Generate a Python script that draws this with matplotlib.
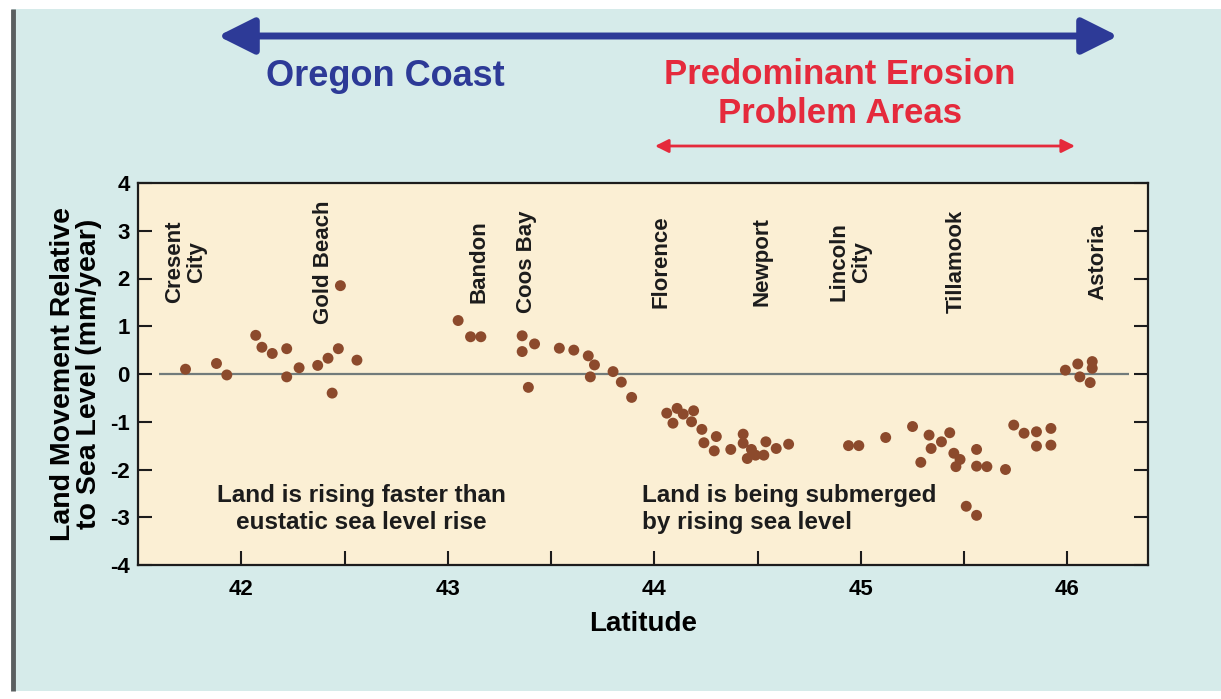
import matplotlib
matplotlib.use('Agg')
import matplotlib.pyplot as plt
import matplotlib.patches as mpatches

plt.rcParams['font.family'] = ['Liberation Sans', 'DejaVu Sans']
plt.rcParams['font.weight'] = 'bold'
plt.rcParams['axes.unicode_minus'] = False

# tide-gauge / survey stations: latitude and land movement (mm/year)
latitude = [41.73, 41.88, 41.93, 42.07, 42.10, 42.15, 42.22, 42.22, 42.28, 42.37,
            42.42, 42.47, 42.48, 42.44, 42.56, 43.05, 43.11, 43.16, 43.36, 43.36,
            43.42, 43.39, 43.54, 43.61, 43.68, 43.71, 43.69, 43.80, 43.84, 43.89,
            44.06, 44.11, 44.14, 44.09, 44.19, 44.18, 44.23, 44.30, 44.24, 44.29,
            44.37, 44.43, 44.43, 44.47, 44.45, 44.49, 44.54, 44.53, 44.59, 44.65,
            44.94, 44.99, 45.12, 45.25, 45.33, 45.43, 45.39, 45.34, 45.29, 45.45,
            45.48, 45.46, 45.56, 45.56, 45.61, 45.70, 45.74, 45.79, 45.85, 45.92,
            45.85, 45.92, 45.51, 45.56, 45.99, 46.05, 46.12, 46.12, 46.06, 46.11]
movement = [0.10, 0.22, -0.02, 0.81, 0.56, 0.43, 0.53, -0.06, 0.13, 0.18,
            0.33, 0.53, 1.85, -0.40, 0.29, 1.12, 0.78, 0.78, 0.80, 0.47,
            0.63, -0.28, 0.54, 0.50, 0.38, 0.19, -0.06, 0.05, -0.17, -0.49,
            -0.82, -0.72, -0.84, -1.03, -0.77, -1.00, -1.16, -1.31, -1.44, -1.61,
            -1.58, -1.26, -1.45, -1.58, -1.77, -1.70, -1.42, -1.70, -1.56, -1.47,
            -1.50, -1.50, -1.33, -1.10, -1.28, -1.23, -1.42, -1.56, -1.85, -1.66,
            -1.79, -1.94, -1.58, -1.93, -1.94, -2.00, -1.07, -1.24, -1.21, -1.14,
            -1.51, -1.49, -2.77, -2.96, 0.08, 0.21, 0.26, 0.12, -0.06, -0.18]

towns = ['Cresent\nCity', 'Gold Beach', 'Bandon', 'Coos Bay', 'Florence',
         'Newport', 'Lincoln\nCity', 'Tillamook', 'Astoria']
town_lat = [41.73, 42.40, 43.15, 43.38, 44.03, 44.52, 44.95, 45.46, 46.15]

x_ticks = [42, 43, 44, 45, 46]
y_ticks = [-4, -3, -2, -1, 0, 1, 2, 3, 4]

BLUE = '#2d3a97'
RED = '#e52a3c'
DOT = '#8c4a2c'

W, H = 1221, 699
fig = plt.figure(figsize=(W / 100, H / 100), dpi=100, facecolor='white')

# ---- backdrop panel, arrows and headings (pixel coordinates) ----
bg = fig.add_axes([0, 0, 1, 1], zorder=0)
bg.set_xlim(0, W)
bg.set_ylim(H, 0)
bg.axis('off')
bg.add_patch(mpatches.Rectangle((12, 9), W - 12, 682, facecolor='#d6ebea',
                                edgecolor='none'))
bg.plot([13, 13], [9, 691], color='#5a5f60', lw=3.5, solid_capstyle='butt')

coast = mpatches.FancyArrowPatch((218, 36), (1118, 36),
                                 arrowstyle='<|-|>,head_length=2.2,head_width=1.1',
                                 mutation_scale=10, lw=5, color=BLUE,
                                 shrinkA=0, shrinkB=0)
bg.add_patch(coast)
erosion = mpatches.FancyArrowPatch((655, 146), (1075, 146),
                                   arrowstyle='<|-|>,head_length=0.8,head_width=0.4',
                                   mutation_scale=10, lw=2, color=RED,
                                   shrinkA=0, shrinkB=0)
bg.add_patch(erosion)

bg.text(385, 76, 'Oregon Coast', ha='center', va='center', fontsize=26,
        color=BLUE, fontweight='bold')
bg.text(840, 94, 'Predominant Erosion\nProblem Areas', ha='center', va='center',
        fontsize=25, color=RED, fontweight='bold', linespacing=1.2)

# ---- main scatter ----
ax = fig.add_axes([138 / W, 1 - 565 / H, (1148 - 138) / W, (565 - 183) / H], zorder=1)
ax.set_facecolor('#fbefd4')
ax.set_xlim(41.5, 46.39)
ax.set_ylim(-4, 4)

ax.hlines(0, 41.6, 46.3, color='#717b7b', lw=1.6, zorder=1)
ax.scatter(latitude, movement, s=62, color=DOT, edgecolors='none', zorder=3)

for name, lat in zip(towns, town_lat):
    ax.text(lat, 2.35, name, rotation=90, ha='center', va='center',
            fontsize=16, fontweight='bold', color='#1c1c1c', linespacing=1.1,
            multialignment='center')

ax.text(42.58, -2.83, 'Land is rising faster than\neustatic sea level rise',
        ha='center', va='center', fontsize=17.5, color='#1c1c1c',
        linespacing=1.25)
ax.text(43.94, -2.83, 'Land is being submerged\nby rising sea level',
        ha='left', va='center', fontsize=17.5, color='#1c1c1c', linespacing=1.25)

ax.set_xticks(x_ticks)
ax.set_xticks([42.5, 43.5, 44.5, 45.5], minor=True)
ax.set_yticks(y_ticks)
ax.tick_params(axis='both', which='both', direction='in', length=10, width=1.5,
               color='#1c1c1c', labelsize=16, top=False)
ax.tick_params(axis='y', right=True, pad=6)
ax.tick_params(axis='x', pad=10)
for lab in ax.get_xticklabels() + ax.get_yticklabels():
    lab.set_fontweight('bold')
for sp in ax.spines.values():
    sp.set_linewidth(1.6)
    sp.set_color('#1c1c1c')

ax.set_xlabel('Latitude', fontsize=20, fontweight='bold', labelpad=8)
ax.set_ylabel('Land Movement Relative\nto Sea Level (mm/year)', fontsize=20.5,
              fontweight='bold', labelpad=6, linespacing=1.0)

fig.savefig('out.png', dpi=100, facecolor='white')
plt.close()
